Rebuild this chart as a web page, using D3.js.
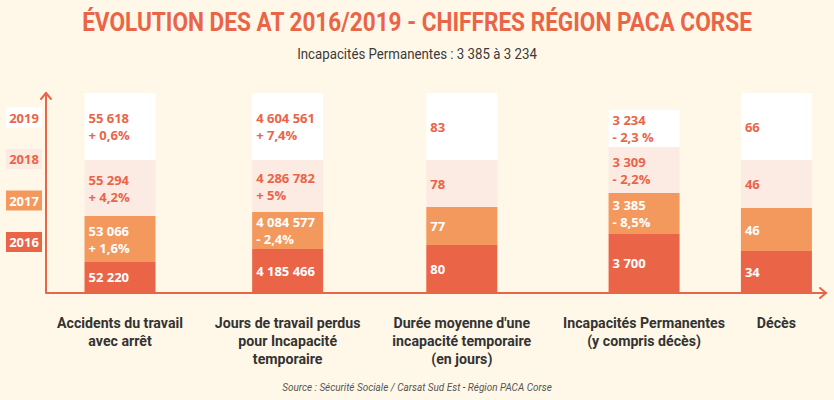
<!DOCTYPE html>
<html>
<head>
<meta charset="utf-8">
<script src="https://cdn.jsdelivr.net/npm/d3@7"></script>
<style>
  body { margin: 0; background: #fff8e8; }
  svg { display: block; }
</style>
</head>
<body>
<div id="chart"></div>
<script>
// categories (one entry per line of the label under each column)
const categories = [
  ["Accidents du travail", "avec arrêt"],
  ["Jours de travail perdus", "pour Incapacité", "temporaire"],
  ["Durée moyenne d'une", "incapacité temporaire", "(en jours)"],
  ["Incapacités Permanentes", "(y compris décès)"],
  ["Décès"]
];
const years = ["2016", "2017", "2018", "2019"];

// figures per category, 2016 -> 2019
const figures = [
  [52220, 53066, 55294, 55618],
  [4185466, 4084577, 4286782, 4604561],
  [80, 77, 78, 83],
  [3700, 3385, 3309, 3234],
  [34, 46, 46, 66]
];
const changes = [
  [null, "+ 1,6%", "+ 4,2%", "+ 0,6%"],
  [null, "- 2,4%", "+ 5%", "+ 7,4%"],
  [null, null, null, null],
  [null, "- 8,5%", "- 2,2%", "- 2,3 %"],
  [null, null, null, null]
];
// the infographic blocks are not proportional to the figures,
// so the block sizes are read off the picture (units out of 200)
const stackUnits = [
  [30, 46, 56, 67],
  [43, 37, 52, 67],
  [47, 38, 47, 67],
  [58, 41, 46, 37],
  [41, 43, 48, 67]
];

const title = "ÉVOLUTION DES AT 2016/2019 - CHIFFRES RÉGION PACA CORSE";
const subtitle = "Incapacités Permanentes : 3 385 à 3 234";
const source = "Source  : Sécurité Sociale / Carsat Sud Est - Région PACA Corse";

const width = 834, height = 400;
const red = "#ea6548";
const colors = d3.scaleOrdinal().domain(years).range(["#ea6548", "#f3995e", "#fcebe3", "#ffffff"]);
const textColors = d3.scaleOrdinal().domain(years).range(["#ffffff", "#ffffff", red, red]);
const narrow = "Roboto, 'Open Sans', sans-serif";
const sans = "'Open Sans', 'Noto Sans', sans-serif";

const fr = d3.formatLocale({ decimal: ",", thousands: " ", grouping: [3], currency: ["", " €"] });
const fmt = fr.format(",d");

const svg = d3.select("#chart").append("svg")
  .attr("width", width)
  .attr("height", height);

svg.append("rect").attr("width", width).attr("height", height).attr("fill", "#fff8e8");

// no condensed font installed: squeeze text horizontally to the reference width
function headline(txt, yPos, target, size, weight, style, fill) {
  const t = svg.append("text")
    .attr("text-anchor", "middle")
    .style("font-family", narrow).style("font-weight", weight)
    .style("font-style", style).style("font-size", size + "px")
    .style("fill", fill)
    .text(txt);
  const s = target / t.node().getComputedTextLength();
  t.attr("transform", `translate(${width / 2},${yPos}) scale(${s},1)`);
  return t;
}

headline(title, 31, 670, 25, "bold", "normal", red);
headline(subtitle, 59, 240, 14, "normal", "normal", "#3a3a3a");
headline(source, 391, 270, 10.5, "normal", "italic", "#555");

// scales
const y = d3.scaleLinear().domain([0, 200]).range([292, 92]);
const barWidth = 71;

// category labels: spread over the width with equal gaps between them
const labelLeft = 57, labelRight = 796;
const labels = svg.append("g")
  .selectAll("text")
  .data(categories)
  .join("text")
  .attr("text-anchor", "middle")
  .style("font-family", narrow).style("font-weight", "bold").style("font-size", "14.5px")
  .style("fill", "#333");

labels.selectAll("tspan")
  .data(d => d)
  .join("tspan")
  .attr("x", 0)
  .attr("dy", (d, i) => i === 0 ? 0 : 18)
  .text(d => d);

const raw = [];
labels.each(function() {
  let w = 0;
  d3.select(this).selectAll("tspan").each(function() { w = Math.max(w, this.getComputedTextLength()); });
  raw.push(w);
});
const squeeze = 162 / raw[3];
const widths = raw.map(w => w * squeeze);
const gap = (labelRight - labelLeft - d3.sum(widths)) / (categories.length - 1);
const centers = widths.map((w, i) => labelLeft + d3.sum(widths.slice(0, i)) + gap * i + w / 2);

const x = d3.scaleOrdinal().domain(d3.range(categories.length)).range(centers);

labels.attr("transform", (d, i) => `translate(${x(i)},328) scale(${squeeze},1)`);

// stacked blocks
const cols = svg.append("g")
  .selectAll("g")
  .data(categories.map((c, i) => i))
  .join("g")
  .attr("transform", i => `translate(${x(i) - barWidth / 2},0)`);

cols.each(function(ci) {
  const ends = d3.cumsum(stackUnits[ci]);
  const segs = years.map((yr, k) => ({
    year: yr,
    y0: k === 0 ? 0 : ends[k - 1],
    y1: ends[k],
    value: figures[ci][k],
    change: changes[ci][k]
  }));
  const g = d3.select(this);
  g.selectAll("rect")
    .data(segs)
    .join("rect")
    .attr("x", 0)
    .attr("width", barWidth)
    .attr("y", d => y(d.y1))
    .attr("height", d => y(d.y0) - y(d.y1))
    .attr("fill", d => colors(d.year));

  const t = g.selectAll("text")
    .data(segs)
    .join("text")
    .attr("x", 4)
    .attr("y", d => (y(d.y0) + y(d.y1)) / 2 + (d.change ? -8.5 : 0))
    .attr("dominant-baseline", "central")
    .style("font-family", sans).style("font-weight", "bold").style("font-size", "13px")
    .style("fill", d => textColors(d.year));
  t.append("tspan").attr("x", 4).text(d => fmt(d.value));
  t.filter(d => d.change).append("tspan").attr("x", 4).attr("dy", 17).text(d => d.change);
});

// legend
const legend = svg.append("g")
  .selectAll("g")
  .data(years)
  .join("g")
  .attr("transform", (d, i) => `translate(6,${242 - i * 41.5})`);
legend.append("rect")
  .attr("y", -10).attr("width", 36).attr("height", 20)
  .attr("fill", d => colors(d));
legend.append("text")
  .attr("x", 18).attr("dominant-baseline", "central")
  .attr("text-anchor", "middle")
  .style("font-family", sans).style("font-weight", "bold").style("font-size", "13px")
  .style("fill", d => textColors(d))
  .text(d => d);

// axes with arrow heads
const axisX0 = 46, axisY = y(0) + 1, axisX1 = 826, axisTop = y(200) + 1;
const axis = svg.append("g")
  .attr("fill", "none").attr("stroke", red).attr("stroke-width", 2)
  .attr("stroke-linecap", "round").attr("stroke-linejoin", "round");
axis.append("path").attr("d", d3.line()([[axisX0, axisTop], [axisX0, axisY], [axisX1, axisY]]));
axis.append("path").attr("d", d3.line()([[axisX0 - 5, axisTop + 6], [axisX0, axisTop], [axisX0 + 5, axisTop + 6]]));
axis.append("path").attr("d", d3.line()([[axisX1 - 6, axisY - 5], [axisX1, axisY], [axisX1 - 6, axisY + 5]]));
</script>
</body>
</html>
